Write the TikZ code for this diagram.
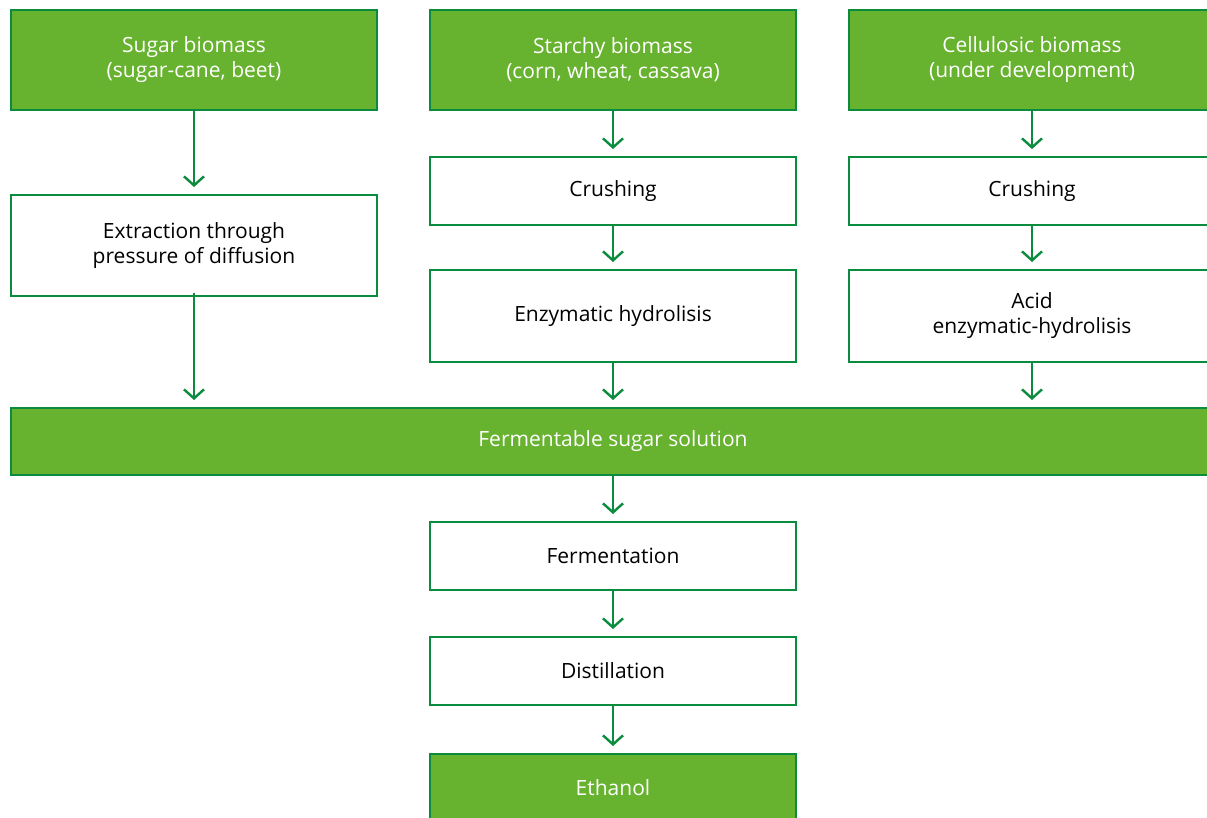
\documentclass[tikz,border=0pt]{standalone}
\usepackage{fontspec}
\setmainfont{Open Sans}
\usetikzlibrary{arrows.meta}
\definecolor{gfill}{HTML}{67B22F}
\definecolor{gline}{HTML}{0B8B3D}
\tikzset{
  box/.style={draw=gline, line width=2.6pt, rectangle, inner sep=0pt, outer sep=0pt,
    align=center, font=\fontsize{21}{25}\selectfont},
  greenbox/.style={box, fill=gfill, text=white},
  whitebox/.style={box, fill=white, text=black},
  flow/.style={draw=gline, line width=2.4pt, -{Straight Barb[length=9pt,width=20pt,line width=2.4pt]}, shorten >=8pt}
}
\begin{document}
\begin{tikzpicture}[x=1pt,y=-1pt]
\useasboundingbox (0,0) rectangle (1207,818);
% top row
\node[greenbox, minimum width=366pt, minimum height=100pt] (sugar) at (194,60) {Sugar biomass\\(sugar-cane, beet)};
\node[greenbox, minimum width=366pt, minimum height=100pt] (starch) at (613,60) {Starchy biomass\\(corn, wheat, cassava)};
\node[greenbox, minimum width=366pt, minimum height=100pt] (cell) at (1032,60) {Cellulosic biomass\\(under development)};
% second level
\node[whitebox, minimum width=366pt, minimum height=101pt] (extr) at (194,245.5) {Extraction through\\pressure of diffusion};
\node[whitebox, minimum width=366pt, minimum height=68pt] (crush1) at (613,191) {Crushing};
\node[whitebox, minimum width=366pt, minimum height=68pt] (crush2) at (1032,191) {Crushing};
% third level
\node[whitebox, minimum width=366pt, minimum height=92pt] (enz) at (613,316) {Enzymatic hydrolisis};
\node[whitebox, minimum width=366pt, minimum height=92pt] (acid) at (1032,316) {Acid\\enzymatic-hydrolisis};
% sugar solution
\node[greenbox, minimum width=1204pt, minimum height=67pt] (ferm) at (613,441.5) {Fermentable sugar solution};
\node[whitebox, minimum width=366pt, minimum height=68pt] (fermt) at (613,556) {Fermentation};
\node[whitebox, minimum width=366pt, minimum height=68pt] (dist) at (613,671) {Distillation};
\node[greenbox, minimum width=366pt, minimum height=68pt] (eth) at (613,788) {Ethanol};
% connectors
\draw[flow] (sugar.south) -- (extr.north);
\draw[flow] (starch.south) -- (crush1.north);
\draw[flow] (cell.south) -- (crush2.north);
\draw[flow] (crush1.south) -- (enz.north);
\draw[flow] (crush2.south) -- (acid.north);
\draw[flow] ([yshift=3pt]extr.south) -- (extr.south |- ferm.north);
\draw[flow] (enz.south) -- (ferm.north);
\draw[flow] (acid.south) -- (acid.south |- ferm.north);
\draw[flow] (ferm.south -| fermt.north) -- (fermt.north);
\draw[flow] (fermt.south) -- (dist.north);
\draw[flow] (dist.south) -- (eth.north);
\end{tikzpicture}
\end{document}
